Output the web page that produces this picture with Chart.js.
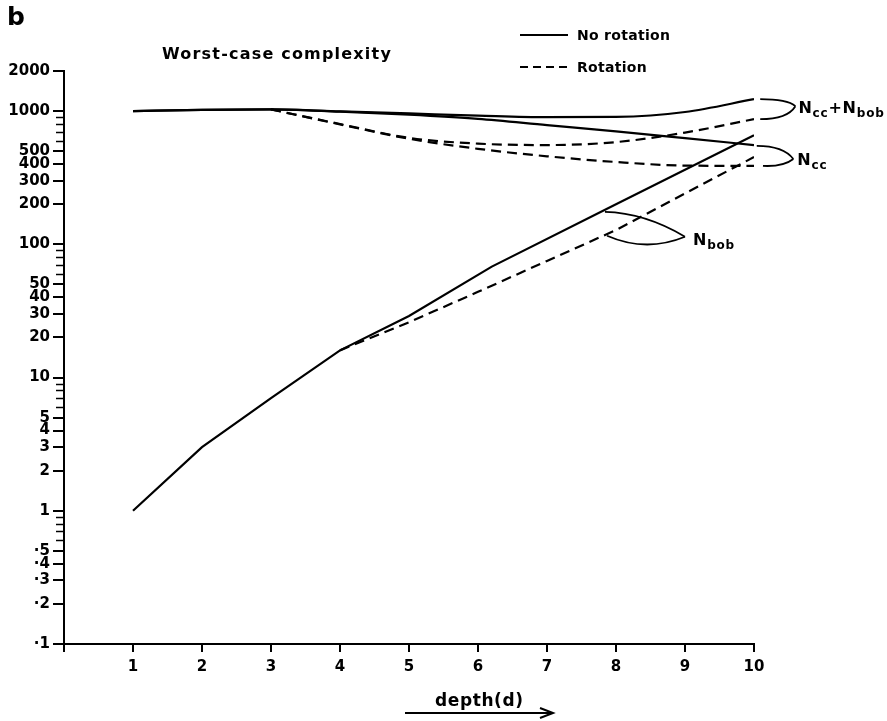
<!DOCTYPE html>
<html><head><meta charset="utf-8">
<script src="https://cdn.jsdelivr.net/npm/chart.js@4/dist/chart.umd.min.js"></script>
<style>html,body{margin:0;padding:0;background:#fff}canvas{display:block}</style>
</head><body>
<canvas id="c" width="887" height="721"></canvas>
<script>
// ---- data ----
const depth = [1, 2, 3, 4, 5, 6, 7, 8, 9, 10];
const sumNoRotation = [1000, 1020, 1030, 995, 960, 925, 900, 905, 985, 1230];   // Ncc+Nbob, no rotation
const ccNoRotation  = [1000, 1020, 1030, 990, 940, 875, 785, 705, 627, 556];    // Ncc, no rotation
const bobNoRotationDepth = [1, 2, 3, 4, 5, 6.2, 8, 10];
const bobNoRotation      = [1, 3, 7, 16, 29, 68, 200, 660];                   // Nbob, no rotation
const rotationDepth = [3, 4, 5, 6, 7, 8, 9, 10];
const sumRotation   = [1030, 800, 630, 570, 556, 585, 690, 870];              // Ncc+Nbob, rotation
const ccRotation    = [1030, 795, 620, 521, 458, 415, 390, 388];              // Ncc, rotation
const bobRotationDepth = [4, 5, 6, 7, 8, 9, 10];
const bobRotation      = [16, 26, 44, 75, 128, 241, 452];                     // Nbob, rotation

const xTickValues = [0, 1, 2, 3, 4, 5, 6, 7, 8, 9, 10];
const xTickLabels = ['', '1', '2', '3', '4', '5', '6', '7', '8', '9', '10'];
const yTickValues = [2000, 1000, 500, 400, 300, 200, 100, 50, 40, 30, 20, 10, 5, 4, 3, 2, 1, 0.5, 0.4, 0.3, 0.2, 0.1];
const yTickLabels = ['2000', '1000', '500', '400', '300', '200', '100', '50', '40', '30', '20', '10', '5', '4', '3', '2', '1', '·5', '·4', '·3', '·2', '·1'];
const yMinorTicks = [900, 800, 700, 600, 90, 80, 70, 60, 9, 8, 7, 6, 0.9, 0.8, 0.7, 0.6];

const legendNames = ['No rotation', 'Rotation'];
const panelLetter = 'b';
const titleText = 'Worst-case complexity';
const xTitle = 'depth (d)';

// ---- helpers ----
const pts = (xs, ys) => xs.map((v, i) => ({x: v, y: ys[i]}));
const FONT = '"DejaVu Sans", sans-serif';
const DASH = [10, 6];

function ds(label, xs, ys, dashed, smooth) {
  return {
    label, data: pts(xs, ys), borderColor: '#000', borderWidth: 2.2,
    borderDash: dashed ? DASH : [], pointRadius: 0, fill: false,
    tension: smooth ? 0.4 : 0, cubicInterpolationMode: smooth ? 'monotone' : 'default'
  };
}

// annotation anchors (data space) for the bracket labels
const annot = {
  sum: {a: [10.09, 1230], b: [10.09, 870], tip: [10.6, 1089]},
  cc:  {a: [10.04, 548],  b: [10.13, 388], tip: [10.57, 437]},
  bob: {a: [7.84, 175],   b: [7.87, 116],  tip: [9.0, 114]}
};

const deco = {
  id: 'deco',
  afterDraw(chart) {
    const {ctx, chartArea: a, scales: {x, y}} = chart;
    const P = (p) => ({x: x.getPixelForValue(p[0]), y: y.getPixelForValue(p[1])});
    ctx.save();
    ctx.fillStyle = '#000'; ctx.strokeStyle = '#000';

    // minor y ticks
    ctx.lineWidth = 1.5;
    yMinorTicks.forEach(v => {
      const py = Math.round(y.getPixelForValue(v)) + 0.5;
      ctx.beginPath(); ctx.moveTo(a.left - 8, py); ctx.lineTo(a.left, py); ctx.stroke();
    });

    // panel letter
    ctx.font = 'bold 25px ' + FONT; ctx.textBaseline = 'alphabetic'; ctx.textAlign = 'left';
    ctx.fillText(panelLetter, 7, 25);

    // title
    ctx.font = 'bold 16px ' + FONT;
    try { ctx.letterSpacing = '1.2px'; } catch (e) {}
    ctx.fillText(titleText, a.left + 98, 59);

    // legend
    ctx.font = 'bold 14px ' + FONT;
    try { ctx.letterSpacing = '0.3px'; } catch (e) {}
    ctx.textBaseline = 'middle';
    const legY = [35, 67];
    legendNames.forEach((n, i) => {
      ctx.lineWidth = 2;
      ctx.setLineDash(i ? [8, 5] : []);
      ctx.beginPath(); ctx.moveTo(520, legY[i]); ctx.lineTo(568, legY[i]); ctx.stroke();
      ctx.setLineDash([]);
      ctx.fillText(n, 577, legY[i] + 1);
    });

    // brackets
    ctx.lineWidth = 1.8;
    const quad = (s, c, t) => { ctx.beginPath(); ctx.moveTo(s.x, s.y); ctx.quadraticCurveTo(c.x, c.y, t.x, t.y); ctx.stroke(); };
    // Ncc+Nbob
    let A = P(annot.sum.a), B = P(annot.sum.b), T = P(annot.sum.tip);
    quad(A, {x: T.x - 8, y: A.y}, T);
    quad(B, {x: T.x - 8, y: B.y}, T);
    const sumTip = T;
    // Ncc
    A = P(annot.cc.a); B = P(annot.cc.b); T = P(annot.cc.tip);
    quad(A, {x: T.x - 10, y: A.y}, T);
    quad(B, {x: T.x - 10, y: B.y + 1}, T);
    const ccTip = T;
    // Nbob
    A = P(annot.bob.a); B = P(annot.bob.b); T = P(annot.bob.tip);
    quad(A, {x: (A.x + T.x) / 2, y: A.y + 1}, T);
    quad(B, {x: (B.x + T.x) / 2, y: B.y + 17}, T);
    const bobTip = T;

    // labels with subscripts
    function nLabel(x0, yMid, parts) {
      let cx = x0;
      try { ctx.letterSpacing = '0.8px'; } catch (e) {}
      ctx.textBaseline = 'alphabetic';
      parts.forEach(([txt, sub]) => {
        ctx.font = sub ? 'bold 12px ' + FONT : 'bold 16px ' + FONT;
        ctx.fillText(txt, cx, yMid + (sub ? 10 : 6));
        cx += ctx.measureText(txt).width;
      });
    }
    nLabel(sumTip.x + 3, sumTip.y + 1, [['N', 0], ['cc', 1], ['+', 0], ['N', 0], ['bob', 1]]);
    nLabel(ccTip.x + 4, ccTip.y, [['N', 0], ['cc', 1]]);
    nLabel(bobTip.x + 8, bobTip.y + 2, [['N', 0], ['bob', 1]]);

    // x title with arrow
    ctx.font = 'bold 17px ' + FONT;
    try { ctx.letterSpacing = '0.6px'; } catch (e) {}
    ctx.textBaseline = 'alphabetic';
    ctx.fillText(xTitle.replace(' ', ''), 435, 706);
    ctx.lineWidth = 2;
    ctx.beginPath(); ctx.moveTo(405, 713); ctx.lineTo(552, 713); ctx.stroke();
    ctx.beginPath(); ctx.moveTo(540, 708); ctx.lineTo(553, 713); ctx.lineTo(540, 718); ctx.stroke();
    ctx.restore();
  }
};

new Chart(document.getElementById('c'), {
  type: 'line',
  data: {
    datasets: [
      ds('No rotation Ncc+Nbob', depth, sumNoRotation, false, true),
      ds('No rotation Ncc', depth, ccNoRotation, false, true),
      ds('No rotation Nbob', bobNoRotationDepth, bobNoRotation, false, false),
      ds('Rotation Ncc+Nbob', rotationDepth, sumRotation, true, true),
      ds('Rotation Ncc', rotationDepth, ccRotation, true, true),
      ds('Rotation Nbob', bobRotationDepth, bobRotation, true, false)
    ]
  },
  options: {
    responsive: false, animation: false, events: [],
    layout: {padding: {left: 0, right: 133, top: 71, bottom: 0}},
    plugins: {legend: {display: false}, tooltip: {enabled: false}, title: {display: false}},
    scales: {
      x: {
        type: 'linear', min: 0, max: 10,
        afterBuildTicks: s => { s.ticks = xTickValues.map(v => ({value: v})); },
        afterFit: s => { s.height = 77; },
        ticks: {autoSkip: false, maxRotation: 0, padding: 6, color: '#000',
          font: {family: FONT, weight: 'bold', size: 15},
          callback: v => xTickLabels[xTickValues.indexOf(v)] ?? ''},
        grid: {drawOnChartArea: false, drawTicks: true, tickLength: 8, color: '#000', lineWidth: 2},
        border: {display: true, color: '#000', width: 2}
      },
      y: {
        type: 'logarithmic', min: 0.1, max: 2000,
        afterBuildTicks: s => { s.ticks = yTickValues.map(v => ({value: v})); },
        afterFit: s => { s.width = 64; },
        ticks: {autoSkip: false, padding: 3, color: '#000',
          font: {family: FONT, weight: 'bold', size: 15},
          callback: v => { const i = yTickValues.indexOf(v); return i >= 0 ? yTickLabels[i] : ''; }},
        grid: {drawOnChartArea: false, drawTicks: true, tickLength: 11, color: '#000', lineWidth: 2},
        border: {display: true, color: '#000', width: 2}
      }
    }
  },
  plugins: [deco]
});
</script>
</body></html>
